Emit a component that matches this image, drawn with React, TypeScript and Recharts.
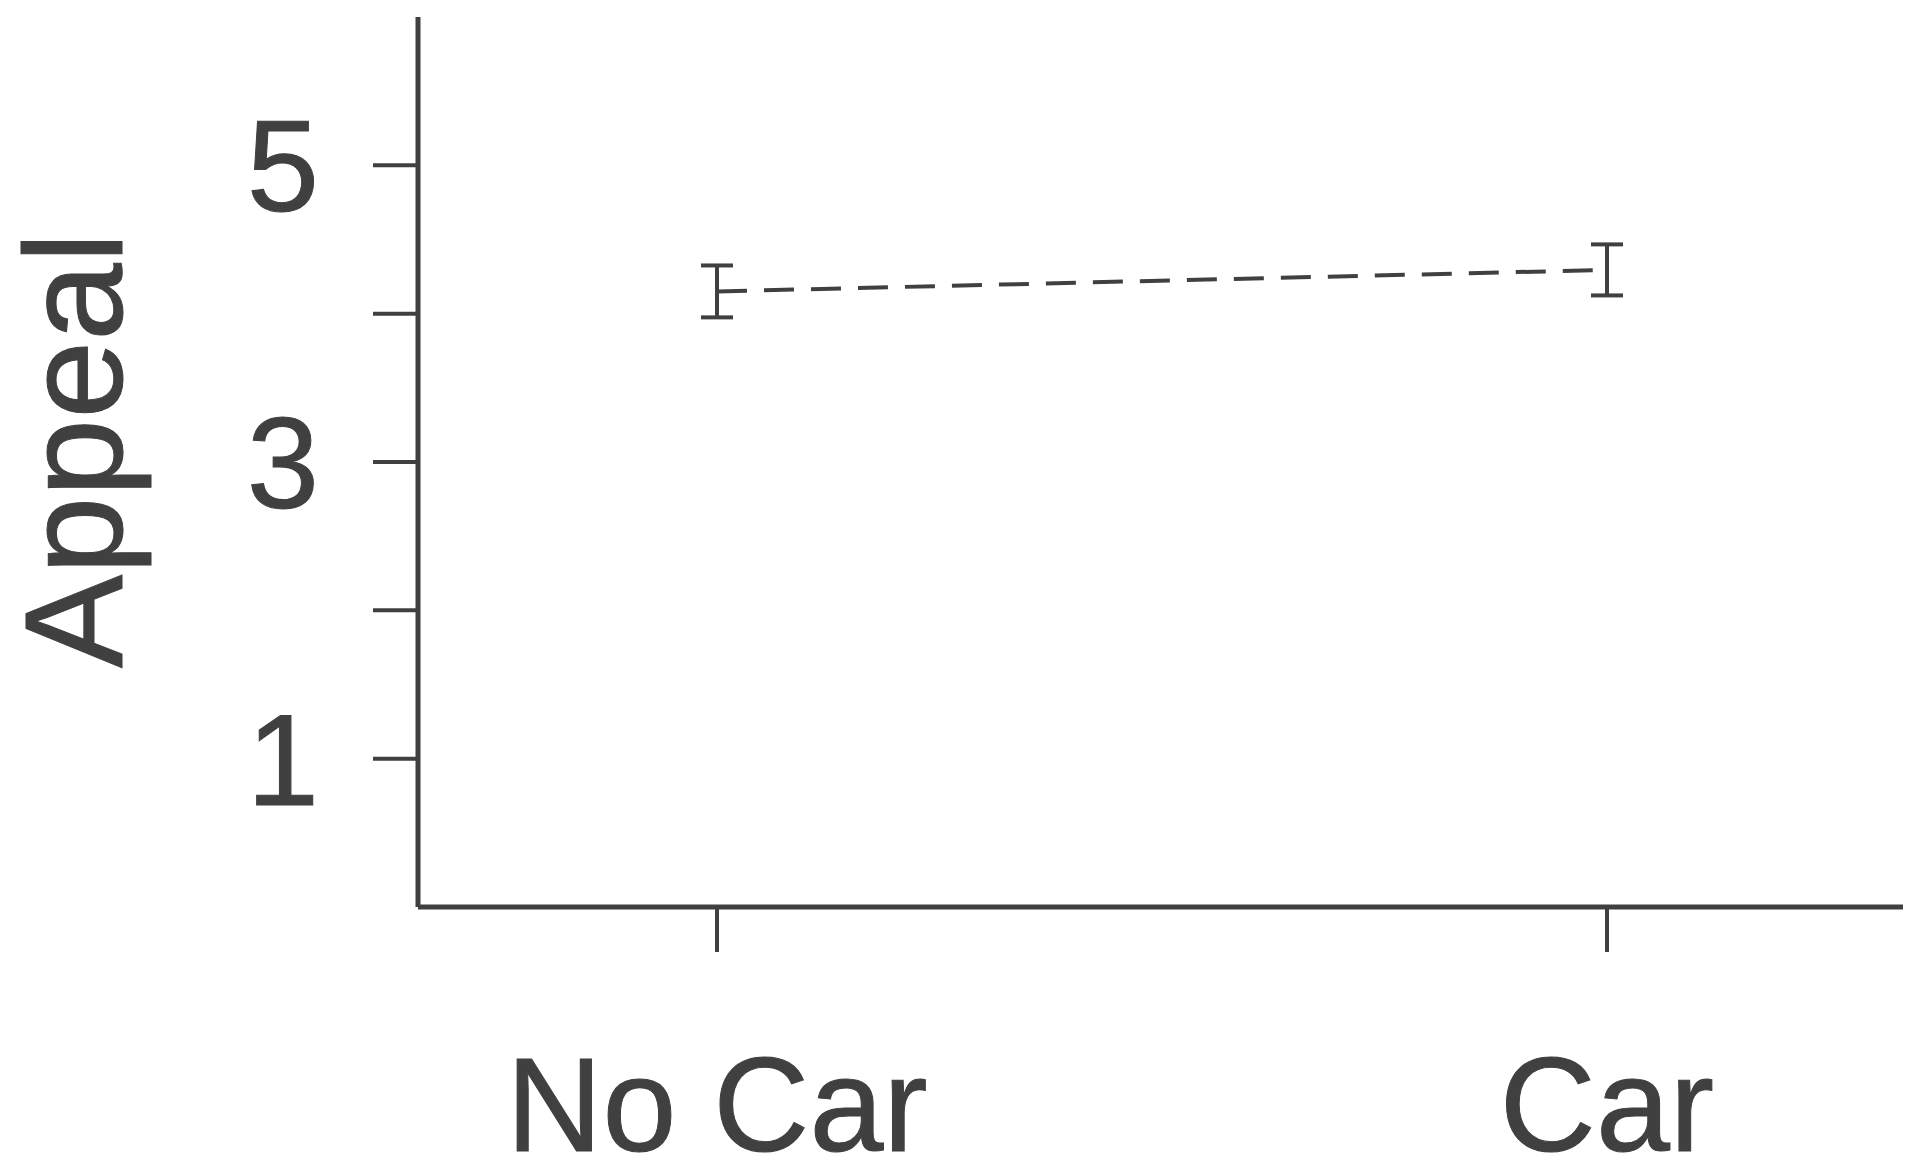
import { ErrorBar, Line, LineChart, XAxis, YAxis } from "recharts";

// condition means with +/- error
const conditions = ["No Car", "Car"];
const appealMeans = [4.15, 4.295];
const appealErrors = [0.175, 0.172];

const yTicks = [1, 2, 3, 4, 5];
const yTickLabels = ["1", "", "3", "", "5"];

const data = conditions.map((c, i) => ({
  condition: c,
  appeal: appealMeans[i],
  err: appealErrors[i],
}));

const INK = "#404040";
const FONT = "'Liberation Sans', Arial, Helvetica, sans-serif";

export default function App() {
  return (
    <div style={{ position: "absolute", left: 0, top: 0, background: "#fff" }}>
      <LineChart
        width={1908}
        height={1162}
        data={data}
        margin={{ top: 17, right: 5, bottom: 0, left: 0 }}
      >
        <XAxis
          dataKey="condition"
          interval={0}
          height={255}
          padding={{ left: 299, right: 296 }}
          tickSize={45}
          tickMargin={105}
          tick={{ fill: INK, stroke: INK, strokeWidth: 1, fontSize: 133, fontFamily: FONT }}
          axisLine={{ stroke: INK, strokeWidth: 5 }}
          tickLine={{ stroke: INK, strokeWidth: 4 }}
        />
        <YAxis
          type="number"
          domain={[0, 6]}
          ticks={yTicks}
          width={418}
          tickSize={45}
          tickMargin={54}
          tickFormatter={(v: number) => yTickLabels[yTicks.indexOf(v)] ?? ""}
          tick={{ fill: INK, stroke: INK, strokeWidth: 1, fontSize: 130, fontFamily: FONT }}
          axisLine={{ stroke: INK, strokeWidth: 5 }}
          tickLine={{ stroke: INK, strokeWidth: 4 }}
          label={{
            content: () => (
              <text
                x={122}
                y={450}
                transform="rotate(-90 122 450)"
                textAnchor="middle"
                fill={INK}
                stroke={INK}
                strokeWidth={1}
                fontSize={140}
                fontFamily={FONT}
              >
                Appeal
              </text>
            ),
          }}
        />
        <Line
          type="linear"
          dataKey="appeal"
          stroke={INK}
          strokeWidth={4}
          strokeDasharray="30 17"
          dot={false}
          activeDot={false}
          isAnimationActive={false}
        >
          <ErrorBar
            dataKey="err"
            direction="y"
            width={16}
            stroke={INK}
            strokeWidth={4}
            isAnimationActive={false}
          />
        </Line>
      </LineChart>
    </div>
  );
}
